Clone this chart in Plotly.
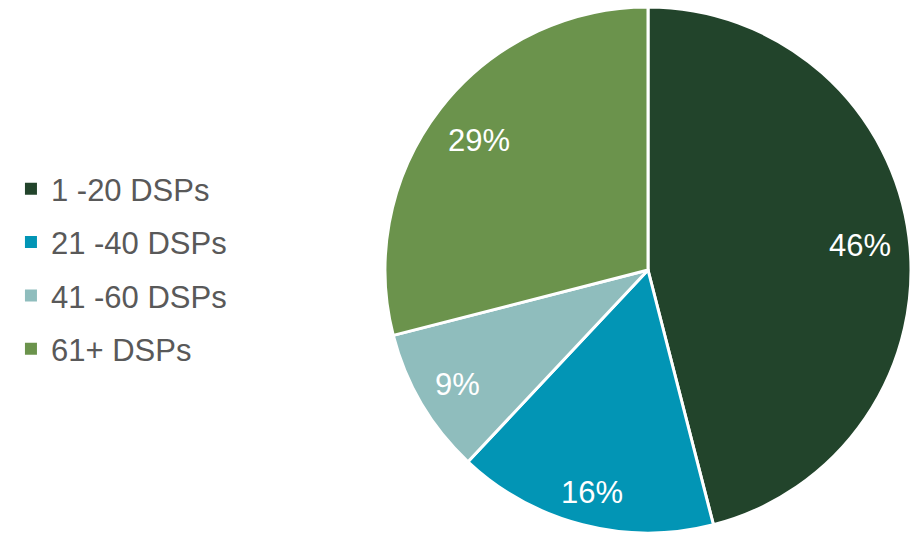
import math
import plotly.graph_objects as go

categories = ["1 -20 DSPs", "21 -40 DSPs", "41 -60 DSPs", "61+ DSPs"]
values = [46, 16, 9, 29]
colors = ["#22442B", "#0295B5", "#8FBDBD", "#6B934C"]

W, H = 913, 533
cx, cy, R = 648, 270, 263
FONT = "Liberation Sans, Arial, sans-serif"
LABEL_SIZE = 31

fig = go.Figure()
fig.add_trace(go.Pie(
    labels=categories,
    values=values,
    sort=False,
    direction="clockwise",
    rotation=0,
    marker=dict(colors=colors, line=dict(color="white", width=3)),
    textinfo="none",
    domain=dict(x=[(cx - R) / W, (cx + R) / W], y=[max(0, (H - cy - R) / H), (H - cy + R) / H]),
    hoverinfo="label+percent",
    showlegend=False,
))

# legend entries (separate groups so spacing can be set)
for name, col in zip(categories, colors):
    fig.add_trace(go.Scatter(
        x=[None], y=[None], mode="markers", name=name, legendgroup=name,
        marker=dict(symbol="square", size=12, color=col),
        showlegend=True,
    ))

# percentage labels placed near the outer end of each slice
total = sum(values)
cum = 0
annotations = []
char_w = {"%": 0.889}
for v in values:
    mid = (cum + v / 2) / total * 2 * math.pi
    cum += v
    txt = f"{round(v / total * 100)}%"
    tw = sum(char_w.get(c, 0.556) for c in txt) * LABEL_SIZE
    th = 0.74 * LABEL_SIZE
    dx, dy = math.sin(mid), -math.cos(mid)
    ext = abs(dx) * tw / 2 + abs(dy) * th / 2
    r = R - 17 - ext
    px, py = cx + r * dx, cy + r * dy + 2
    annotations.append(dict(
        x=px / W, y=(H - py) / H, xref="paper", yref="paper",
        text=txt, showarrow=False, xanchor="center", yanchor="middle",
        font=dict(family=FONT, size=LABEL_SIZE, color="white"),
    ))

fig.update_layout(
    width=W, height=H,
    margin=dict(l=0, r=0, t=0, b=0),
    paper_bgcolor="white",
    plot_bgcolor="white",
    xaxis=dict(visible=False, domain=[0, 0.05]),
    yaxis=dict(visible=False),
    annotations=annotations,
    showlegend=True,
    legend=dict(
        x=0.012, y=0.495, xanchor="left", yanchor="middle",
        font=dict(family=FONT, size=31, color="#595959"),
        itemwidth=30,
        tracegroupgap=10,
        traceorder="grouped",
        bgcolor="rgba(0,0,0,0)",
    ),
)

fig.write_html("out.html")
